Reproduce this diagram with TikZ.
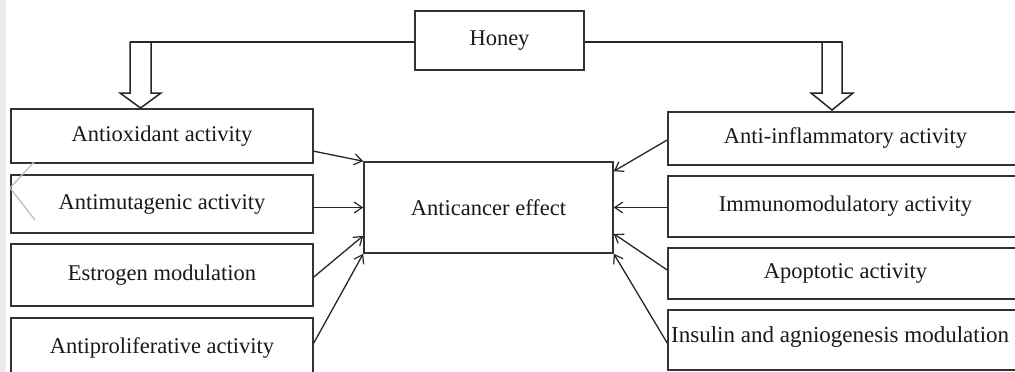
\documentclass[tikz,border=0pt]{standalone}
\usepackage{fontspec}
\setmainfont{Liberation Serif}
\usetikzlibrary{arrows.meta,calc}
\begin{document}
\begin{tikzpicture}[x=1pt,y=-1pt,
  box/.style={draw=black!80,line width=1.6pt,fill=white,inner sep=0pt,
    font=\fontsize{22.5}{26}\selectfont,text=black!90},
  arr/.style={draw=black!85,line width=1.3pt,-{Straight Barb[length=8pt,width=11pt,line width=1.2pt]}},
  fat/.style={draw=black!85,line width=1.5pt,fill=white,line join=miter}]
\useasboundingbox (0,0) rectangle (1015,372);
\clip (0,0) rectangle (1015,372);
\fill[white] (0,0) rectangle (1015,372);
\fill[black!8] (0,0) rectangle (6,372);
% nodes
\node[box,minimum width=169pt,minimum height=59pt] (honey) at (499.5,40.5) {\raisebox{-2pt}{Honey}};
\node[box,minimum width=302pt,minimum height=54pt] (ao) at (162,136) {\raisebox{-3pt}{Antioxidant activity}};
\node[box,minimum width=302pt,minimum height=58pt] (am) at (162,204) {Antimutagenic activity};
\node[box,minimum width=302pt,minimum height=62pt] (es) at (162,275) {Estrogen modulation};
\node[box,minimum width=302pt,minimum height=60pt] (ap) at (162,348) {Antiproliferative activity};
\node[box,minimum width=249pt,minimum height=91pt] (ac) at (488.5,207.5) {Anticancer effect};
\node[box,minimum width=355pt,minimum height=53pt] (ai) at (845.5,138.5) {Anti-inflammatory activity};
\node[box,minimum width=355pt,minimum height=61pt] (im) at (845.5,206.5) {Immunomodulatory activity};
\node[box,minimum width=355pt,minimum height=51pt] (apo) at (845.5,273.5) {Apoptotic activity};
\node[box,minimum width=355pt,minimum height=60pt] (ins) at (845.5,340) {};
\node[font=\fontsize{23}{26}\selectfont,text=black!90,anchor=west,inner sep=0pt] (inst) at (671,337) {Insulin and agniogenesis modulation};
% screenshot chevron
\draw[black!25,line width=1.3pt] (34,162) -- (10,188) -- (35,220);
% honey split arrows
\coordinate (lt) at (130,42);
\coordinate (rt) at (842,42);
\draw[black!85,line width=1.5pt] (honey.west |- lt) -- (lt);
\draw[black!85,line width=1.5pt] (honey.east |- rt) -- (rt);
\draw[fat] (130,42) -- (151,42) -- (151,93) -- (161,93) -- (140.5,108) -- (120,93) -- (130,93) -- cycle;
\draw[fat] (822,42) -- (842,42) -- (842,93) -- (853,93) -- (832,110) -- (811,93) -- (822,93) -- cycle;
% left arrows
\draw[arr] ($(ao.north east)+(0,43)$) -- (ac.north west);
\draw[arr] (am.east |- ac.west) -- (ac.west);
\draw[arr] ($(es.east)+(0,2)$) -- ($(ac.south west)+(0,-18)$);
\draw[arr] ($(ap.east)+(0,-5)$) -- (ac.south west);
% right arrows
\draw[arr] ($(ai.west)+(0,1.5)$) -- ($(ac.north east)+(0,10)$);
\draw[arr] (im.west |- ac.east) -- (ac.east);
\draw[arr] ($(apo.west)+(0,-3.5)$) -- ($(ac.south east)+(0,-20)$);
\draw[arr] ($(ins.west)+(0,3)$) -- (ac.south east);
\end{tikzpicture}
\end{document}
